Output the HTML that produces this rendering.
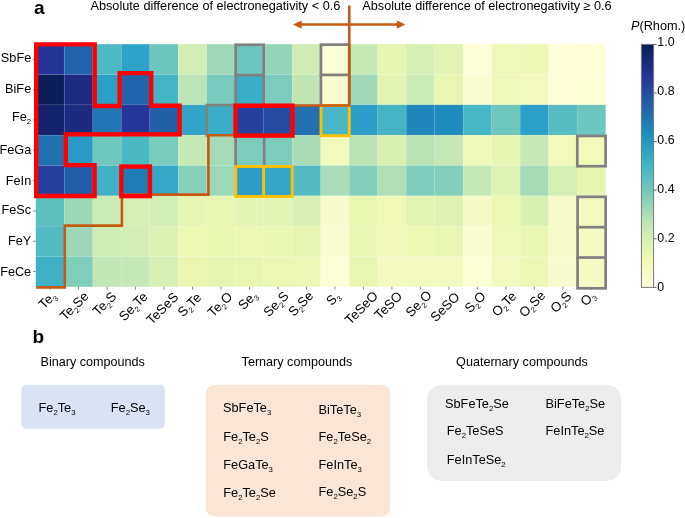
<!DOCTYPE html>
<html><head><meta charset="utf-8"><style>
html,body{margin:0;padding:0;background:#fff;}
svg{display:block;will-change:transform;}
text{font-family:"Liberation Sans",sans-serif;fill:#000;}
.t{font-size:12.7px;}
.xl{font-size:13.2px;}
.xl .s{font-size:7.6px;}
.bold{font-size:19px;font-weight:bold;}
.h{font-size:12.6px;}
.cbl{font-size:12.4px;}
.c{font-size:12.75px;}
.c .cs{font-size:7.8px;}
</style></head><body>
<svg width="685" height="518" viewBox="0 0 685 518">
<rect x="35.80" y="44.20" width="28.54" height="30.37" fill="#26349a"/>
<rect x="64.29" y="44.20" width="28.54" height="30.37" fill="#2164ac"/>
<rect x="92.78" y="44.20" width="28.54" height="30.37" fill="#4db9c3"/>
<rect x="121.27" y="44.20" width="28.54" height="30.37" fill="#2fa2c9"/>
<rect x="149.76" y="44.20" width="28.54" height="30.37" fill="#6cc6bd"/>
<rect x="178.25" y="44.20" width="28.54" height="30.37" fill="#d3eeb4"/>
<rect x="206.74" y="44.20" width="28.54" height="30.37" fill="#9fd9b9"/>
<rect x="235.23" y="44.20" width="28.54" height="30.37" fill="#6cc6bd"/>
<rect x="263.72" y="44.20" width="28.54" height="30.37" fill="#94d5b9"/>
<rect x="292.21" y="44.20" width="28.54" height="30.37" fill="#d0ecb4"/>
<rect x="320.70" y="44.20" width="28.54" height="30.37" fill="#fdfed6"/>
<rect x="349.19" y="44.20" width="28.54" height="30.37" fill="#c6e9b4"/>
<rect x="377.68" y="44.20" width="28.54" height="30.37" fill="#e6f5b2"/>
<rect x="406.17" y="44.20" width="28.54" height="30.37" fill="#d6efb3"/>
<rect x="434.66" y="44.20" width="28.54" height="30.37" fill="#e2f3b2"/>
<rect x="463.15" y="44.20" width="28.54" height="30.37" fill="#fdfed6"/>
<rect x="491.64" y="44.20" width="28.54" height="30.37" fill="#eef8b8"/>
<rect x="520.13" y="44.20" width="28.54" height="30.37" fill="#eef8b5"/>
<rect x="548.62" y="44.20" width="28.54" height="30.37" fill="#fefed8"/>
<rect x="577.11" y="44.20" width="28.54" height="30.37" fill="#fdfed5"/>
<rect x="35.80" y="74.52" width="28.54" height="30.37" fill="#0a1e5a"/>
<rect x="64.29" y="74.52" width="28.54" height="30.37" fill="#1d2b80"/>
<rect x="92.78" y="74.52" width="28.54" height="30.37" fill="#2aa0c8"/>
<rect x="121.27" y="74.52" width="28.54" height="30.37" fill="#2165ac"/>
<rect x="149.76" y="74.52" width="28.54" height="30.37" fill="#44b5c4"/>
<rect x="178.25" y="74.52" width="28.54" height="30.37" fill="#bde5b5"/>
<rect x="206.74" y="74.52" width="28.54" height="30.37" fill="#78cbbc"/>
<rect x="235.23" y="74.52" width="28.54" height="30.37" fill="#3aaec6"/>
<rect x="263.72" y="74.52" width="28.54" height="30.37" fill="#7ccbbc"/>
<rect x="292.21" y="74.52" width="28.54" height="30.37" fill="#c0e6b5"/>
<rect x="320.70" y="74.52" width="28.54" height="30.37" fill="#fafdd3"/>
<rect x="349.19" y="74.52" width="28.54" height="30.37" fill="#9fd9b9"/>
<rect x="377.68" y="74.52" width="28.54" height="30.37" fill="#e2f3b2"/>
<rect x="406.17" y="74.52" width="28.54" height="30.37" fill="#cdebb4"/>
<rect x="434.66" y="74.52" width="28.54" height="30.37" fill="#e8f6b1"/>
<rect x="463.15" y="74.52" width="28.54" height="30.37" fill="#fbfdd0"/>
<rect x="491.64" y="74.52" width="28.54" height="30.37" fill="#eef8b8"/>
<rect x="520.13" y="74.52" width="28.54" height="30.37" fill="#f1f9bf"/>
<rect x="548.62" y="74.52" width="28.54" height="30.37" fill="#fdfed6"/>
<rect x="577.11" y="74.52" width="28.54" height="30.37" fill="#fcfed4"/>
<rect x="35.80" y="104.84" width="28.54" height="30.37" fill="#13226a"/>
<rect x="64.29" y="104.84" width="28.54" height="30.37" fill="#1c2a80"/>
<rect x="92.78" y="104.84" width="28.54" height="30.37" fill="#2175b2"/>
<rect x="121.27" y="104.84" width="28.54" height="30.37" fill="#24369a"/>
<rect x="149.76" y="104.84" width="28.54" height="30.37" fill="#225fa8"/>
<rect x="178.25" y="104.84" width="28.54" height="30.37" fill="#31a4c8"/>
<rect x="206.74" y="104.84" width="28.54" height="30.37" fill="#3aaec6"/>
<rect x="235.23" y="104.84" width="28.54" height="30.37" fill="#23419d"/>
<rect x="263.72" y="104.84" width="28.54" height="30.37" fill="#244ba0"/>
<rect x="292.21" y="104.84" width="28.54" height="30.37" fill="#2170b0"/>
<rect x="320.70" y="104.84" width="28.54" height="30.37" fill="#48b6c4"/>
<rect x="349.19" y="104.84" width="28.54" height="30.37" fill="#2b9ec7"/>
<rect x="377.68" y="104.84" width="28.54" height="30.37" fill="#44b4c4"/>
<rect x="406.17" y="104.84" width="28.54" height="30.37" fill="#1f87bc"/>
<rect x="434.66" y="104.84" width="28.54" height="30.37" fill="#1f8cbe"/>
<rect x="463.15" y="104.84" width="28.54" height="30.37" fill="#46b7c4"/>
<rect x="491.64" y="104.84" width="28.54" height="30.37" fill="#6fc6bd"/>
<rect x="520.13" y="104.84" width="28.54" height="30.37" fill="#2aa0c8"/>
<rect x="548.62" y="104.84" width="28.54" height="30.37" fill="#57bcc2"/>
<rect x="577.11" y="104.84" width="28.54" height="30.37" fill="#6cc6be"/>
<rect x="35.80" y="135.16" width="28.54" height="30.37" fill="#2171b1"/>
<rect x="64.29" y="135.16" width="28.54" height="30.37" fill="#2a9bc6"/>
<rect x="92.78" y="135.16" width="28.54" height="30.37" fill="#6fc7bd"/>
<rect x="121.27" y="135.16" width="28.54" height="30.37" fill="#4ab9c4"/>
<rect x="149.76" y="135.16" width="28.54" height="30.37" fill="#79cbbc"/>
<rect x="178.25" y="135.16" width="28.54" height="30.37" fill="#c7e9b4"/>
<rect x="206.74" y="135.16" width="28.54" height="30.37" fill="#a7dbb8"/>
<rect x="235.23" y="135.16" width="28.54" height="30.37" fill="#7ccbbc"/>
<rect x="263.72" y="135.16" width="28.54" height="30.37" fill="#7ccbbc"/>
<rect x="292.21" y="135.16" width="28.54" height="30.37" fill="#a8dcb7"/>
<rect x="320.70" y="135.16" width="28.54" height="30.37" fill="#f1f9bb"/>
<rect x="349.19" y="135.16" width="28.54" height="30.37" fill="#b9e3b5"/>
<rect x="377.68" y="135.16" width="28.54" height="30.37" fill="#d9f0b3"/>
<rect x="406.17" y="135.16" width="28.54" height="30.37" fill="#b9e3b5"/>
<rect x="434.66" y="135.16" width="28.54" height="30.37" fill="#c6e8b4"/>
<rect x="463.15" y="135.16" width="28.54" height="30.37" fill="#eff8b6"/>
<rect x="491.64" y="135.16" width="28.54" height="30.37" fill="#e6f5b2"/>
<rect x="520.13" y="135.16" width="28.54" height="30.37" fill="#c8e9b4"/>
<rect x="548.62" y="135.16" width="28.54" height="30.37" fill="#f2f9bb"/>
<rect x="577.11" y="135.16" width="28.54" height="30.37" fill="#f2f9b9"/>
<rect x="35.80" y="165.48" width="28.54" height="30.37" fill="#24409e"/>
<rect x="64.29" y="165.48" width="28.54" height="30.37" fill="#225ea8"/>
<rect x="92.78" y="165.48" width="28.54" height="30.37" fill="#3fb1c5"/>
<rect x="121.27" y="165.48" width="28.54" height="30.37" fill="#1f7db6"/>
<rect x="149.76" y="165.48" width="28.54" height="30.37" fill="#35a7c7"/>
<rect x="178.25" y="165.48" width="28.54" height="30.37" fill="#87d0ba"/>
<rect x="206.74" y="165.48" width="28.54" height="30.37" fill="#9dd8b8"/>
<rect x="235.23" y="165.48" width="28.54" height="30.37" fill="#2b9dc6"/>
<rect x="263.72" y="165.48" width="28.54" height="30.37" fill="#33a6c8"/>
<rect x="292.21" y="165.48" width="28.54" height="30.37" fill="#52bbc3"/>
<rect x="320.70" y="165.48" width="28.54" height="30.37" fill="#aadcb7"/>
<rect x="349.19" y="165.48" width="28.54" height="30.37" fill="#84cfbb"/>
<rect x="377.68" y="165.48" width="28.54" height="30.37" fill="#b0deb6"/>
<rect x="406.17" y="165.48" width="28.54" height="30.37" fill="#7dccbc"/>
<rect x="434.66" y="165.48" width="28.54" height="30.37" fill="#84cfbb"/>
<rect x="463.15" y="165.48" width="28.54" height="30.37" fill="#c5e8b4"/>
<rect x="491.64" y="165.48" width="28.54" height="30.37" fill="#def2b3"/>
<rect x="520.13" y="165.48" width="28.54" height="30.37" fill="#a7dab7"/>
<rect x="548.62" y="165.48" width="28.54" height="30.37" fill="#d6efb3"/>
<rect x="577.11" y="165.48" width="28.54" height="30.37" fill="#e6f5b0"/>
<rect x="35.80" y="195.80" width="28.54" height="30.37" fill="#5cc0c0"/>
<rect x="64.29" y="195.80" width="28.54" height="30.37" fill="#9cd8b8"/>
<rect x="92.78" y="195.80" width="28.54" height="30.37" fill="#cdebb4"/>
<rect x="121.27" y="195.80" width="28.54" height="30.37" fill="#d8efb3"/>
<rect x="149.76" y="195.80" width="28.54" height="30.37" fill="#d3eeb4"/>
<rect x="178.25" y="195.80" width="28.54" height="30.37" fill="#e6f5b2"/>
<rect x="206.74" y="195.80" width="28.54" height="30.37" fill="#e8f6b2"/>
<rect x="235.23" y="195.80" width="28.54" height="30.37" fill="#e4f4b2"/>
<rect x="263.72" y="195.80" width="28.54" height="30.37" fill="#e2f3b3"/>
<rect x="292.21" y="195.80" width="28.54" height="30.37" fill="#daf0b3"/>
<rect x="320.70" y="195.80" width="28.54" height="30.37" fill="#f8fccb"/>
<rect x="349.19" y="195.80" width="28.54" height="30.37" fill="#eaf7b1"/>
<rect x="377.68" y="195.80" width="28.54" height="30.37" fill="#f0f9b8"/>
<rect x="406.17" y="195.80" width="28.54" height="30.37" fill="#e3f4b2"/>
<rect x="434.66" y="195.80" width="28.54" height="30.37" fill="#dff2b3"/>
<rect x="463.15" y="195.80" width="28.54" height="30.37" fill="#f6fbc6"/>
<rect x="491.64" y="195.80" width="28.54" height="30.37" fill="#ebf7b2"/>
<rect x="520.13" y="195.80" width="28.54" height="30.37" fill="#d9f0b3"/>
<rect x="548.62" y="195.80" width="28.54" height="30.37" fill="#f6fbc7"/>
<rect x="577.11" y="195.80" width="28.54" height="30.37" fill="#f2f9bc"/>
<rect x="35.80" y="226.12" width="28.54" height="30.37" fill="#52bac3"/>
<rect x="64.29" y="226.12" width="28.54" height="30.37" fill="#9bd7b8"/>
<rect x="92.78" y="226.12" width="28.54" height="30.37" fill="#cfecb4"/>
<rect x="121.27" y="226.12" width="28.54" height="30.37" fill="#d3edb4"/>
<rect x="149.76" y="226.12" width="28.54" height="30.37" fill="#dbf0b3"/>
<rect x="178.25" y="226.12" width="28.54" height="30.37" fill="#ecf7b2"/>
<rect x="206.74" y="226.12" width="28.54" height="30.37" fill="#eaf7b1"/>
<rect x="235.23" y="226.12" width="28.54" height="30.37" fill="#ecf8b3"/>
<rect x="263.72" y="226.12" width="28.54" height="30.37" fill="#eaf7b2"/>
<rect x="292.21" y="226.12" width="28.54" height="30.37" fill="#e6f5b1"/>
<rect x="320.70" y="226.12" width="28.54" height="30.37" fill="#fbfdd0"/>
<rect x="349.19" y="226.12" width="28.54" height="30.37" fill="#eaf7b2"/>
<rect x="377.68" y="226.12" width="28.54" height="30.37" fill="#eff8b8"/>
<rect x="406.17" y="226.12" width="28.54" height="30.37" fill="#ecf7b2"/>
<rect x="434.66" y="226.12" width="28.54" height="30.37" fill="#eaf7b2"/>
<rect x="463.15" y="226.12" width="28.54" height="30.37" fill="#fbfdd1"/>
<rect x="491.64" y="226.12" width="28.54" height="30.37" fill="#eef8b8"/>
<rect x="520.13" y="226.12" width="28.54" height="30.37" fill="#e8f6b1"/>
<rect x="548.62" y="226.12" width="28.54" height="30.37" fill="#f6fbc8"/>
<rect x="577.11" y="226.12" width="28.54" height="30.37" fill="#f4fac2"/>
<rect x="35.80" y="256.44" width="28.54" height="30.37" fill="#3fb0c5"/>
<rect x="64.29" y="256.44" width="28.54" height="30.37" fill="#7fcdbb"/>
<rect x="92.78" y="256.44" width="28.54" height="30.37" fill="#c2e7b5"/>
<rect x="121.27" y="256.44" width="28.54" height="30.37" fill="#c6e8b4"/>
<rect x="149.76" y="256.44" width="28.54" height="30.37" fill="#d7efb3"/>
<rect x="178.25" y="256.44" width="28.54" height="30.37" fill="#ebf7b1"/>
<rect x="206.74" y="256.44" width="28.54" height="30.37" fill="#e6f5b1"/>
<rect x="235.23" y="256.44" width="28.54" height="30.37" fill="#eaf7b2"/>
<rect x="263.72" y="256.44" width="28.54" height="30.37" fill="#ecf7b3"/>
<rect x="292.21" y="256.44" width="28.54" height="30.37" fill="#eef8b6"/>
<rect x="320.70" y="256.44" width="28.54" height="30.37" fill="#fdfed6"/>
<rect x="349.19" y="256.44" width="28.54" height="30.37" fill="#eaf7b2"/>
<rect x="377.68" y="256.44" width="28.54" height="30.37" fill="#f4fac1"/>
<rect x="406.17" y="256.44" width="28.54" height="30.37" fill="#f3fac0"/>
<rect x="434.66" y="256.44" width="28.54" height="30.37" fill="#f3fac0"/>
<rect x="463.15" y="256.44" width="28.54" height="30.37" fill="#fcfed4"/>
<rect x="491.64" y="256.44" width="28.54" height="30.37" fill="#f3fac0"/>
<rect x="520.13" y="256.44" width="28.54" height="30.37" fill="#eef8b6"/>
<rect x="548.62" y="256.44" width="28.54" height="30.37" fill="#f8fccc"/>
<rect x="577.11" y="256.44" width="28.54" height="30.37" fill="#f4fac3"/>
<path d="M64.29 44.20V286.76M92.78 44.20V286.76M121.27 44.20V286.76M149.76 44.20V286.76M178.25 44.20V286.76M206.74 44.20V286.76M235.23 44.20V286.76M263.72 44.20V286.76M292.21 44.20V286.76M320.70 44.20V286.76M349.19 44.20V286.76M377.68 44.20V286.76M406.17 44.20V286.76M434.66 44.20V286.76M463.15 44.20V286.76M491.64 44.20V286.76M520.13 44.20V286.76M548.62 44.20V286.76M577.11 44.20V286.76M35.80 74.52H605.60M35.80 104.84H605.60M35.80 135.16H605.60M35.80 165.48H605.60M35.80 195.80H605.60M35.80 226.12H605.60M35.80 256.44H605.60" stroke="#ffffff" stroke-opacity="0.12" stroke-width="0.8" fill="none"/>
<path d="M33.00 59.36H35.80M33.00 89.68H35.80M33.00 120.00H35.80M33.00 150.32H35.80M33.00 180.64H35.80M33.00 210.96H35.80M33.00 241.28H35.80M33.00 271.60H35.80M50.04 286.76V289.56M78.53 286.76V289.56M107.03 286.76V289.56M135.51 286.76V289.56M164.00 286.76V289.56M192.50 286.76V289.56M220.99 286.76V289.56M249.47 286.76V289.56M277.96 286.76V289.56M306.45 286.76V289.56M334.94 286.76V289.56M363.44 286.76V289.56M391.93 286.76V289.56M420.42 286.76V289.56M448.90 286.76V289.56M477.39 286.76V289.56M505.88 286.76V289.56M534.38 286.76V289.56M562.86 286.76V289.56M591.35 286.76V289.56" stroke="#777" stroke-width="0.9" fill="none"/>
<rect x="235.70" y="44.75" width="27.95" height="60.75" fill="none" stroke="#808080" stroke-width="2.7"/>
<polyline points="235.70,75.10 263.65,75.10" fill="none" stroke="#808080" stroke-width="2.7" stroke-linejoin="miter" stroke-linecap="square"/>
<rect x="320.95" y="44.65" width="28.30" height="60.85" fill="none" stroke="#808080" stroke-width="2.7"/>
<polyline points="320.95,74.90 349.25,74.90" fill="none" stroke="#808080" stroke-width="2.7" stroke-linejoin="miter" stroke-linecap="square"/>
<polyline points="206.80,135.50 206.80,105.15 235.50,105.15" fill="none" stroke="#808080" stroke-width="2.7" stroke-linejoin="miter" stroke-linecap="square"/>
<polyline points="235.60,135.60 235.60,166.45" fill="none" stroke="#808080" stroke-width="2.7" stroke-linejoin="miter" stroke-linecap="square"/>
<polyline points="264.15,135.60 264.15,166.45" fill="none" stroke="#808080" stroke-width="2.7" stroke-linejoin="miter" stroke-linecap="square"/>
<rect x="577.30" y="135.95" width="28.30" height="30.25" fill="none" stroke="#808080" stroke-width="2.7"/>
<rect x="577.55" y="196.85" width="28.10" height="91.45" fill="none" stroke="#808080" stroke-width="2.7"/>
<polyline points="577.55,227.20 605.65,227.20" fill="none" stroke="#808080" stroke-width="2.7" stroke-linejoin="miter" stroke-linecap="square"/>
<polyline points="577.55,257.50 605.65,257.50" fill="none" stroke="#808080" stroke-width="2.7" stroke-linejoin="miter" stroke-linecap="square"/>
<rect x="321.00" y="105.50" width="28.25" height="30.15" fill="none" stroke="#ffc000" stroke-width="2.9"/>
<rect x="235.75" y="166.45" width="56.45" height="30.00" fill="none" stroke="#ffc000" stroke-width="2.9"/>
<polyline points="263.60,166.45 263.60,196.45" fill="none" stroke="#ffc000" stroke-width="2.9" stroke-linejoin="miter" stroke-linecap="square"/>
<polyline points="349.25,5.5 349.25,105.5 235.5,105.5 235.5,135.2 208.4,135.2 208.4,194.6 121.9,194.6 121.9,225.6 64.8,225.6 64.8,287.4 36.2,287.4" fill="none" stroke="#c55a11" stroke-width="2.6" stroke-linejoin="miter"/>
<path d="M300 24.45H398" stroke="#c55a11" stroke-width="2.6" fill="none"/>
<path d="M292.9 24.45L301.7 20.4L301.7 28.7Z" fill="#c55a11"/>
<path d="M405.4 24.45L396.9 20.4L396.9 28.8Z" fill="#c55a11"/>
<polygon points="36.20,44.40 94.70,44.40 94.70,106.00 119.65,106.00 119.65,73.15 151.20,73.15 151.20,105.70 179.60,105.70 179.60,134.35 65.85,134.35 65.85,165.15 94.55,165.15 94.55,196.05 36.20,196.05" fill="none" stroke="#ff0000" stroke-width="4.4" stroke-linejoin="miter"/>
<rect x="121.35" y="166.55" width="28.55" height="29.55" fill="none" stroke="#ff0000" stroke-width="4.4"/>
<rect x="235.55" y="105.70" width="56.95" height="29.90" fill="none" stroke="#ff0000" stroke-width="4.4"/>
<text x="31.20" y="61.81" text-anchor="end" class="t">SbFe</text>
<text x="31.20" y="93.28" text-anchor="end" class="t">BiFe</text>
<text x="31.20" y="121.45" text-anchor="end" class="t">Fe<tspan font-size="7.8" dy="3">2</tspan></text>
<text x="31.20" y="153.57" text-anchor="end" class="t">FeGa</text>
<text x="31.20" y="184.69" text-anchor="end" class="t">FeIn</text>
<text x="31.20" y="214.26" text-anchor="end" class="t">FeSc</text>
<text x="31.20" y="245.18" text-anchor="end" class="t">FeY</text>
<text x="31.20" y="275.85" text-anchor="end" class="t">FeCe</text>
<text transform="translate(50.54,303.30) rotate(-45)" text-anchor="middle" class="xl">Te<tspan class="s" dy="3">3</tspan><tspan dy="-3">​</tspan></text>
<text transform="translate(77.33,309.10) rotate(-45)" text-anchor="middle" class="xl">Te<tspan class="s" dy="3">2</tspan><tspan dy="-3">​</tspan>Se</text>
<text transform="translate(107.62,306.90) rotate(-45)" text-anchor="middle" class="xl">Te<tspan class="s" dy="3">2</tspan><tspan dy="-3">​</tspan>S</text>
<text transform="translate(136.31,309.60) rotate(-45)" text-anchor="middle" class="xl">Se<tspan class="s" dy="3">2</tspan><tspan dy="-3">​</tspan>Te</text>
<text transform="translate(165.50,311.60) rotate(-45)" text-anchor="middle" class="xl">TeSeS</text>
<text transform="translate(192.59,307.90) rotate(-45)" text-anchor="middle" class="xl">S<tspan class="s" dy="3">2</tspan><tspan dy="-3">​</tspan>Te</text>
<text transform="translate(223.09,307.60) rotate(-45)" text-anchor="middle" class="xl">Te<tspan class="s" dy="3">2</tspan><tspan dy="-3">​</tspan>O</text>
<text transform="translate(250.77,303.40) rotate(-45)" text-anchor="middle" class="xl">Se<tspan class="s" dy="3">3</tspan><tspan dy="-3">​</tspan></text>
<text transform="translate(279.06,307.20) rotate(-45)" text-anchor="middle" class="xl">Se<tspan class="s" dy="3">2</tspan><tspan dy="-3">​</tspan>S</text>
<text transform="translate(303.95,306.80) rotate(-45)" text-anchor="middle" class="xl">S<tspan class="s" dy="3">2</tspan><tspan dy="-3">​</tspan>Se</text>
<text transform="translate(336.05,301.60) rotate(-45)" text-anchor="middle" class="xl">S<tspan class="s" dy="3">3</tspan><tspan dy="-3">​</tspan></text>
<text transform="translate(364.54,310.90) rotate(-45)" text-anchor="middle" class="xl">TeSeO</text>
<text transform="translate(391.43,308.60) rotate(-45)" text-anchor="middle" class="xl">TeSO</text>
<text transform="translate(421.72,306.90) rotate(-45)" text-anchor="middle" class="xl">Se<tspan class="s" dy="3">2</tspan><tspan dy="-3">​</tspan>O</text>
<text transform="translate(448.10,310.10) rotate(-45)" text-anchor="middle" class="xl">SeSO</text>
<text transform="translate(478.29,305.30) rotate(-45)" text-anchor="middle" class="xl">S<tspan class="s" dy="3">2</tspan><tspan dy="-3">​</tspan>O</text>
<text transform="translate(507.19,307.20) rotate(-45)" text-anchor="middle" class="xl">O<tspan class="s" dy="3">2</tspan><tspan dy="-3">​</tspan>Te</text>
<text transform="translate(535.27,307.20) rotate(-45)" text-anchor="middle" class="xl">O<tspan class="s" dy="3">2</tspan><tspan dy="-3">​</tspan>Se</text>
<text transform="translate(564.01,305.30) rotate(-45)" text-anchor="middle" class="xl">O<tspan class="s" dy="3">2</tspan><tspan dy="-3">​</tspan>S</text>
<text transform="translate(590.95,301.50) rotate(-45)" text-anchor="middle" class="xl">O<tspan class="s" dy="3">3</tspan><tspan dy="-3">​</tspan></text>
<defs><linearGradient id="cb" x1="0" y1="0" x2="0" y2="1"><stop offset="0.000" stop-color="#081d58"/><stop offset="0.125" stop-color="#253494"/><stop offset="0.250" stop-color="#225ea8"/><stop offset="0.375" stop-color="#1d91c0"/><stop offset="0.500" stop-color="#41b6c4"/><stop offset="0.625" stop-color="#7fcdbb"/><stop offset="0.750" stop-color="#c7e9b4"/><stop offset="0.875" stop-color="#edf8b1"/><stop offset="1.000" stop-color="#ffffd9"/></linearGradient></defs>
<rect x="641.4" y="44.4" width="12.20" height="242.95" fill="url(#cb)" stroke="#777777" stroke-width="1"/>
<text x="657.3" y="46.15" class="cbl">1.0</text>
<text x="657.3" y="95.08" class="cbl">0.8</text>
<text x="657.3" y="144.01" class="cbl">0.6</text>
<text x="657.3" y="192.94" class="cbl">0.4</text>
<text x="657.3" y="241.87" class="cbl">0.2</text>
<text x="657.3" y="290.80" class="cbl">0</text>
<path d="M653.6 44.40H656.6M653.6 92.99H656.6M653.6 141.58H656.6M653.6 190.17H656.6M653.6 238.76H656.6M653.6 287.35H656.6" stroke="#555" stroke-width="0.9"/>
<text x="631" y="30" class="t"><tspan font-style="italic">P</tspan>(Rhom.)</text>
<text x="34" y="14.3" class="bold">a</text>
<text x="90.5" y="9.6" class="t">Absolute difference of electronegativity &lt; 0.6</text>
<text x="362.3" y="9.6" class="t">Absolute difference of electronegativity ≥ 0.6</text>
<text x="32.6" y="343.4" class="bold">b</text>
<rect x="21.3" y="384.7" width="143.5" height="44" rx="5" fill="#dae3f3"/>
<rect x="205.9" y="384.8" width="184.3" height="131.6" rx="8.5" fill="#fbe5d6"/>
<rect x="427" y="384.7" width="194.3" height="96.3" rx="15" fill="#ededed"/>
<text x="40.6" y="365.9" class="h">Binary compounds</text>
<text x="241.6" y="365.9" class="h">Ternary compounds</text>
<text x="456.1" y="365.9" class="h">Quaternary compounds</text>
<text x="38.50" y="412.35" class="c">Fe<tspan class="cs" dy="2.9">2</tspan><tspan dy="-2.9">​</tspan>Te<tspan class="cs" dy="2.9">3</tspan><tspan dy="-2.9">​</tspan></text>
<text x="110.75" y="412.35" class="c">Fe<tspan class="cs" dy="2.9">2</tspan><tspan dy="-2.9">​</tspan>Se<tspan class="cs" dy="2.9">3</tspan><tspan dy="-2.9">​</tspan></text>
<text x="223.00" y="411.85" class="c">SbFeTe<tspan class="cs" dy="2.9">3</tspan><tspan dy="-2.9">​</tspan></text>
<text x="318.50" y="413.85" class="c">BiTeTe<tspan class="cs" dy="2.9">3</tspan><tspan dy="-2.9">​</tspan></text>
<text x="223.25" y="440.60" class="c">Fe<tspan class="cs" dy="2.9">2</tspan><tspan dy="-2.9">​</tspan>Te<tspan class="cs" dy="2.9">2</tspan><tspan dy="-2.9">​</tspan>S</text>
<text x="318.50" y="441.35" class="c">Fe<tspan class="cs" dy="2.9">2</tspan><tspan dy="-2.9">​</tspan>TeSe<tspan class="cs" dy="2.9">2</tspan><tspan dy="-2.9">​</tspan></text>
<text x="223.25" y="468.85" class="c">FeGaTe<tspan class="cs" dy="2.9">3</tspan><tspan dy="-2.9">​</tspan></text>
<text x="318.50" y="468.60" class="c">FeInTe<tspan class="cs" dy="2.9">3</tspan><tspan dy="-2.9">​</tspan></text>
<text x="223.25" y="497.35" class="c">Fe<tspan class="cs" dy="2.9">2</tspan><tspan dy="-2.9">​</tspan>Te<tspan class="cs" dy="2.9">2</tspan><tspan dy="-2.9">​</tspan>Se</text>
<text x="318.50" y="495.60" class="c">Fe<tspan class="cs" dy="2.9">2</tspan><tspan dy="-2.9">​</tspan>Se<tspan class="cs" dy="2.9">2</tspan><tspan dy="-2.9">​</tspan>S</text>
<text x="445.00" y="408.10" class="c">SbFeTe<tspan class="cs" dy="2.9">2</tspan><tspan dy="-2.9">​</tspan>Se</text>
<text x="545.50" y="408.35" class="c">BiFeTe<tspan class="cs" dy="2.9">2</tspan><tspan dy="-2.9">​</tspan>Se</text>
<text x="446.75" y="435.35" class="c">Fe<tspan class="cs" dy="2.9">2</tspan><tspan dy="-2.9">​</tspan>TeSeS</text>
<text x="545.50" y="435.10" class="c">FeInTe<tspan class="cs" dy="2.9">2</tspan><tspan dy="-2.9">​</tspan>Se</text>
<text x="446.75" y="464.10" class="c">FeInTeSe<tspan class="cs" dy="2.9">2</tspan><tspan dy="-2.9">​</tspan></text>
</svg>
</body></html>
